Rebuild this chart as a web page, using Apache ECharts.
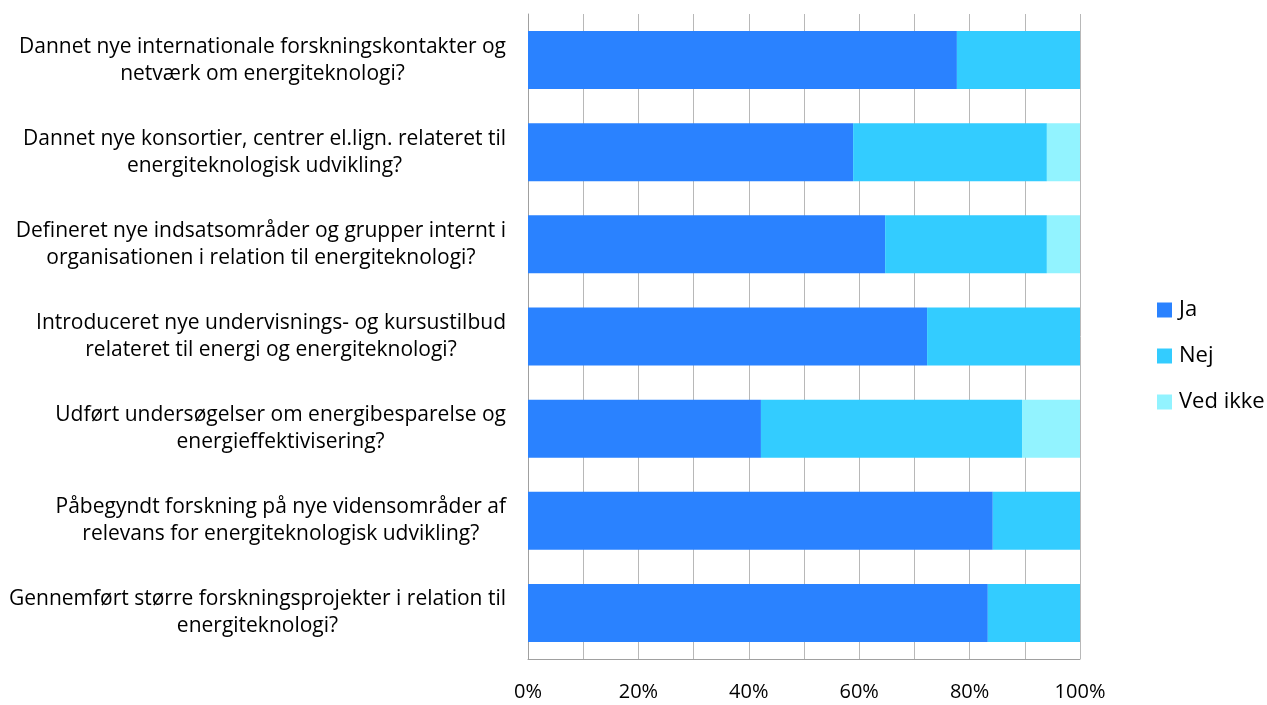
<!DOCTYPE html>
<html>
<head>
<meta charset="utf-8">
<script src="https://cdn.jsdelivr.net/npm/echarts@6/dist/echarts.min.js"></script>
<style>
  html, body { margin: 0; padding: 0; background: #fff; }
  #chart { width: 1267px; height: 705px; }
</style>
</head>
<body>
<div id="chart"></div>
<script>
// spørgsmål, top til bund
const categories = [
  'Dannet nye internationale forskningskontakter og\nnetværk om energiteknologi?',
  'Dannet nye konsortier, centrer el.lign. relateret til\nenergiteknologisk udvikling?',
  'Defineret nye indsatsområder og grupper internt i\norganisationen i relation til energiteknologi?',
  'Introduceret nye undervisnings- og kursustilbud\nrelateret til energi og energiteknologi?',
  'Udført undersøgelser om energibesparelse og\nenergieffektivisering?',
  'Påbegyndt forskning på nye vidensområder af\nrelevans for energiteknologisk udvikling?',
  'Gennemført større forskningsprojekter i relation til\nenergiteknologi?'
];
const ja      = [77.7, 58.9, 64.7, 72.3, 42.2, 84.2, 83.3];
const nej     = [22.3, 35.1, 29.3, 27.7, 47.3, 15.8, 16.7];
const vedIkke = [0, 6.0, 6.0, 0, 10.5, 0, 0];
const xTicks = [0, 20, 40, 60, 80, 100];

const font = '"Open Sans", "Noto Sans", sans-serif';
const chart = echarts.init(document.getElementById('chart'));

function bar(name, data, color) {
  return {
    name, type: 'bar', stack: 'total', data,
    barWidth: 58,
    itemStyle: { color },
    emphasis: { disabled: true }
  };
}

chart.setOption({
  animation: false,
  grid: { left: 528, right: 187, top: 14, bottom: 46, containLabel: false },
  legend: {
    orient: 'vertical',
    left: 1152, top: 294,
    itemWidth: 15, itemHeight: 15, itemGap: 24,
    icon: 'rect',
    textStyle: { fontFamily: font, fontSize: 22, color: '#000', padding: [0, 0, 0, 2] },
    data: ['Ja', 'Nej', 'Ved ikke']
  },
  xAxis: {
    type: 'value', min: 0, max: 100, interval: 10,
    axisLine: { show: true, lineStyle: { color: '#a0a0a0' } },
    axisTick: { show: false },
    splitLine: { lineStyle: { color: '#b8b8b8', width: 1 } },
    axisLabel: {
      margin: 23,
      fontFamily: font, fontSize: 20, color: '#000',
      formatter: v => xTicks.includes(v) ? v + '%' : ''
    }
  },
  yAxis: {
    type: 'category', data: categories, inverse: true,
    axisLine: { show: true, lineStyle: { color: '#a0a0a0' } },
    axisTick: { show: false },
    axisLabel: {
      margin: 22, align: 'right',
      formatter: v => v.split('\n').map(s => '{c|' + s + '}').join('\n'),
      rich: {
        c: { align: 'center', fontFamily: font, fontSize: 21, color: '#000', lineHeight: 27 }
      }
    }
  },
  series: [
    bar('Ja', ja, '#2a82ff'),
    bar('Nej', nej, '#33ccff'),
    bar('Ved ikke', vedIkke, '#92f3ff')
  ]
});
</script>
</body>
</html>
